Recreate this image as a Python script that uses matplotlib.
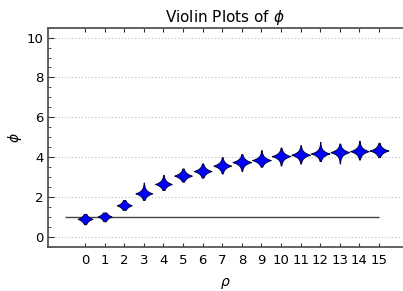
import numpy as np
import matplotlib
matplotlib.use("Agg")
import matplotlib.pyplot as plt
from matplotlib.ticker import MultipleLocator

# values
rho = list(range(16))
phi_center = [0.90, 1.02, 1.58, 2.18, 2.65, 3.07, 3.30, 3.57, 3.75, 3.85, 4.05, 4.12, 4.18, 4.25, 4.30, 4.33]
phi_low = [0.63, 0.78, 1.35, 1.85, 2.35, 2.77, 2.97, 3.18, 3.30, 3.52, 3.58, 3.68, 3.80, 3.68, 3.88, 4.00]
phi_high = [1.15, 1.22, 1.85, 2.72, 3.10, 3.43, 3.68, 4.00, 4.15, 4.35, 4.48, 4.60, 4.77, 4.68, 4.82, 4.72]
violin_width = [0.75, 0.70, 0.75, 0.85, 0.85, 0.90, 0.90, 0.90, 0.95, 0.95, 0.95, 0.95, 0.95, 0.95, 0.95, 0.95]
reference_level = 1.0

# kernel-like shape for each violin (peaked core, thin tails)
core_scale = 0.14
stats = []
for c, lo, hi in zip(phi_center, phi_low, phi_high):
    y = np.linspace(lo, hi, 200)
    d = np.exp(-np.abs(y - c) / core_scale)
    stats.append({"coords": y, "vals": d, "mean": c, "median": c, "min": lo, "max": hi})

fig = plt.figure(figsize=(4.03, 2.91), dpi=100)
ax = fig.add_axes([0.119, 0.150, 0.8785, 0.755])

ax.hlines(reference_level, -1, 15, color="#444444", lw=1.0, zorder=1)

parts = ax.violin(stats, positions=rho, widths=violin_width, showextrema=False)
for body in parts["bodies"]:
    body.set_facecolor("#0000ff")
    body.set_edgecolor("#00003a")
    body.set_linewidth(0.7)
    body.set_alpha(1)
    body.set_zorder(3)

ax.set_xlim(-1.89, 16.17)
ax.set_ylim(-0.53, 10.5)
ax.set_xticks(rho)
ax.set_yticks([0, 2, 4, 6, 8, 10])
ax.yaxis.set_minor_locator(MultipleLocator(0.5))
ax.grid(axis="y", linestyle=(0, (1, 2)), color="#bbbbbb", lw=0.8)
ax.set_axisbelow(True)

for side in ["left", "bottom", "top"]:
    ax.spines[side].set_color("#555555")
    ax.spines[side].set_linewidth(1.3)
ax.spines["right"].set_visible(False)

ax.tick_params(axis="x", direction="in", top=True, length=3, width=0.8,
               color="#333333", labelsize=9.5, pad=5)
ax.tick_params(axis="y", which="major", direction="in", length=4, width=0.8,
               color="#333333", labelsize=9.5, pad=3)
ax.tick_params(axis="y", which="minor", direction="in", length=2, width=0.6,
               color="#333333")

ax.set_title(r"Violin Plots of $\phi$", fontsize=11, pad=4)
ax.set_xlabel(r"$\rho$", fontsize=10, labelpad=6)
ax.set_ylabel(r"$\phi$", fontsize=10, labelpad=2)

fig.savefig("out.png", dpi=100)
